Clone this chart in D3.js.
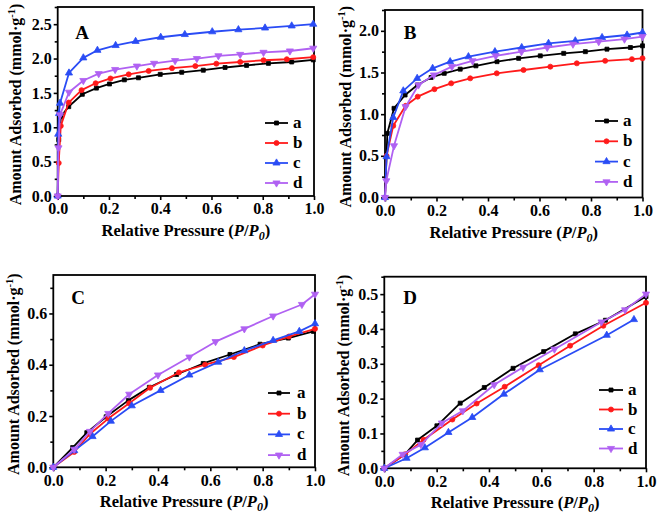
<!DOCTYPE html>
<html><head><meta charset="utf-8">
<script src="https://cdn.jsdelivr.net/npm/d3@7"></script>
<style>body{margin:0;background:#fff}svg{display:block}text{font-family:"Liberation Serif","Times New Roman",serif;font-weight:bold}</style>
</head><body><svg id="c" width="659" height="517"></svg>
<script>
const seriesNames = ["a","b","c","d"];
const seriesColors = ["#000000","#ff1a1a","#2a4cf5","#b061f2"];
const xTicks = [0,0.2,0.4,0.6,0.8,1.0];

// Panel A
const A_a = [[0,0],[0.004,0.82],[0.013,1.16],[0.043,1.30],[0.096,1.48],[0.151,1.57],[0.202,1.63],[0.26,1.69],[0.315,1.72],[0.40,1.77],[0.484,1.80],[0.568,1.83],[0.653,1.87],[0.737,1.90],[0.822,1.93],[0.913,1.95],[0.997,1.98]];
const A_b = [[0,0],[0.004,0.48],[0.012,1.02],[0.043,1.36],[0.093,1.54],[0.148,1.64],[0.206,1.71],[0.277,1.77],[0.355,1.82],[0.446,1.86],[0.537,1.89],[0.619,1.925],[0.712,1.95],[0.803,1.975],[0.894,1.99],[0.997,2.02]];
const A_c = [[0,0],[0.002,0.9],[0.005,1.2],[0.009,1.35],[0.044,1.79],[0.10,2.01],[0.155,2.12],[0.226,2.19],[0.304,2.25],[0.402,2.31],[0.496,2.35],[0.603,2.39],[0.705,2.42],[0.809,2.445],[0.913,2.475],[0.997,2.50]];
const A_d = [[0,0],[0.003,0.7],[0.009,1.18],[0.044,1.51],[0.10,1.68],[0.16,1.78],[0.224,1.84],[0.309,1.89],[0.376,1.93],[0.458,1.97],[0.543,2.00],[0.627,2.04],[0.712,2.06],[0.803,2.09],[0.906,2.11],[0.997,2.15]];
// Panel B
const B_a = [[0,0],[0.009,0.77],[0.035,1.07],[0.078,1.23],[0.126,1.35],[0.179,1.44],[0.23,1.49],[0.292,1.54],[0.353,1.58],[0.435,1.63],[0.519,1.67],[0.603,1.70],[0.694,1.73],[0.778,1.75],[0.862,1.78],[0.953,1.80],[1.0,1.82]];
const B_b = [[0,0],[0.006,0.50],[0.032,0.86],[0.08,1.10],[0.127,1.21],[0.192,1.30],[0.257,1.37],[0.331,1.43],[0.434,1.49],[0.538,1.53],[0.642,1.57],[0.745,1.61],[0.855,1.64],[0.959,1.66],[1.0,1.67]];
const B_c = [[0,0],[0.006,0.49],[0.032,0.96],[0.071,1.28],[0.125,1.43],[0.185,1.55],[0.253,1.63],[0.324,1.69],[0.427,1.75],[0.531,1.80],[0.635,1.85],[0.739,1.88],[0.843,1.92],[0.94,1.95],[1.0,1.98]];
const B_d = [[0,0],[0.005,0.2],[0.035,0.62],[0.08,1.09],[0.13,1.35],[0.19,1.47],[0.26,1.57],[0.34,1.64],[0.43,1.70],[0.53,1.75],[0.63,1.80],[0.73,1.84],[0.83,1.87],[0.93,1.90],[1.0,1.93]];
// Panel C
const C_a = [[0,0],[0.074,0.077],[0.128,0.135],[0.202,0.197],[0.287,0.261],[0.367,0.312],[0.471,0.362],[0.573,0.405],[0.675,0.44],[0.79,0.48],[0.898,0.504],[0.994,0.53]];
const C_b = [[0,0],[0.08,0.06],[0.14,0.13],[0.21,0.19],[0.29,0.25],[0.37,0.31],[0.48,0.37],[0.58,0.40],[0.69,0.43],[0.80,0.475],[0.90,0.51],[1.0,0.54]];
const C_c = [[0,0],[0.08,0.065],[0.15,0.12],[0.22,0.18],[0.30,0.24],[0.41,0.30],[0.52,0.36],[0.63,0.41],[0.73,0.455],[0.84,0.495],[0.94,0.53],[1.0,0.56]];
const C_d = [[0,0],[0.08,0.07],[0.14,0.14],[0.21,0.21],[0.29,0.285],[0.40,0.36],[0.52,0.43],[0.62,0.49],[0.73,0.54],[0.84,0.59],[0.95,0.635],[1.0,0.675]];
// Panel D
const D_a = [[0,0],[0.079,0.04],[0.127,0.081],[0.201,0.122],[0.29,0.187],[0.382,0.232],[0.492,0.287],[0.609,0.335],[0.73,0.386],[0.845,0.425],[1.0,0.493]];
const D_b = [[0,0],[0.08,0.04],[0.15,0.082],[0.26,0.14],[0.353,0.186],[0.46,0.234],[0.59,0.296],[0.71,0.352],[0.837,0.409],[1.0,0.475]];
const D_c = [[0,0],[0.085,0.029],[0.155,0.059],[0.245,0.103],[0.336,0.146],[0.457,0.213],[0.594,0.283],[0.85,0.382],[0.954,0.427]];
const D_d = [[0,0],[0.07,0.04],[0.14,0.068],[0.22,0.13],[0.30,0.165],[0.42,0.24],[0.53,0.29],[0.65,0.342],[0.83,0.42],[0.92,0.455],[1.0,0.50]];

const panels = [
  {label:"A", data:[A_a,A_b,A_c,A_d], ymax:2.75, yMajor:[0,0.5,1.0,1.5,2.0,2.5], yMinor:0.25, fmt:".1f",
   box:[57.7,314,7,196], ytx:15, lab:[82,39], leg:[265,288,293,123,20]},
  {label:"B", data:[B_a,B_b,B_c,B_d], ymax:2.25, yMajor:[0,0.5,1.0,1.5,2.0], yMinor:0.25, fmt:".1f",
   box:[385,642.5,10,197.5], ytx:345, lab:[410,39], leg:[595,618,623,121,20.3]},
  {label:"C", data:[C_a,C_b,C_c,C_d], ymax:0.75, yMajor:[0,0.2,0.4,0.6], yMinor:0.1, fmt:".1f",
   box:[53.3,315,275,467.3], ytx:13, lab:[78,304], leg:[268,290,297,393,20.7]},
  {label:"D", data:[D_a,D_b,D_c,D_d], ymax:0.55, yMajor:[0,0.1,0.2,0.3,0.4,0.5], yMinor:0.05, fmt:".1f",
   box:[384.3,646,276.7,468.3], ytx:343, lab:[410,304], leg:[599,623,628,390,19.5]}
];

const svg = d3.select("#c");
const symTypes = [d3.symbolSquare, d3.symbolCircle, d3.symbolTriangle, d3.symbolTriangle];
const symSizes = [16, 20, 22, 22];

function marker(g, i, x, y, color){
  const p = g.append("path").attr("d", d3.symbol().type(symTypes[i]).size(symSizes[i])())
    .attr("fill", color).attr("stroke", color).attr("stroke-width", 0.8);
  p.attr("transform", `translate(${x},${y})` + (i===3 ? " rotate(180)" : ""));
}

panels.forEach(P => {
  const [x0,x1,y0,y1] = P.box;
  const x = d3.scaleLinear().domain([0,1]).range([x0,x1]);
  const y = d3.scaleLinear().domain([0,P.ymax]).range([y1,y0]);
  const g = svg.append("g");

  const xMinor = d3.range(0.1,1.0001,0.2);
  const xAxMinor = d3.axisBottom(x).tickValues(xMinor).tickSize(3).tickFormat("");
  const yMin = d3.range(0, P.ymax+1e-9, P.yMinor).filter(v => !P.yMajor.some(m => Math.abs(m-v)<1e-9));
  const yAxMinor = d3.axisLeft(y).tickValues(yMin).tickSize(3).tickFormat("");
  g.append("g").attr("transform",`translate(0,${y1})`).call(xAxMinor)
    .call(s=>{s.select(".domain").remove(); s.selectAll("line").attr("stroke","#000").attr("stroke-width",1.6);});
  g.append("g").attr("transform",`translate(${x0},0)`).call(yAxMinor)
    .call(s=>{s.select(".domain").remove(); s.selectAll("line").attr("stroke","#000").attr("stroke-width",1.6);});

  const xAx = d3.axisBottom(x).tickValues(xTicks).tickSize(4).tickPadding(3).tickFormat(d3.format(".1f"));
  const yAx = d3.axisLeft(y).tickValues(P.yMajor).tickSize(4).tickPadding(2).tickFormat(d3.format(P.fmt));
  const styleTxt = s=>{s.select(".domain").remove(); s.selectAll("line").attr("stroke","#000").attr("stroke-width",1.6);
      s.selectAll("text").attr("font-size",16).attr("fill","#000").attr("font-family","Liberation Serif").attr("font-weight","bold");};
  g.append("g").attr("transform",`translate(0,${y1})`).call(xAx).call(styleTxt);
  g.append("g").attr("transform",`translate(${x0},0)`).call(yAx).call(styleTxt);

  g.append("rect").attr("x",x0).attr("y",y0).attr("width",x1-x0).attr("height",y1-y0)
    .attr("fill","none").attr("stroke","#000").attr("stroke-width",1.8);

  const line = d3.line().x(d=>x(d[0])).y(d=>y(d[1]));
  P.data.forEach((ser,i) => {
    g.append("path").datum(ser).attr("d",line).attr("fill","none")
      .attr("stroke",seriesColors[i]).attr("stroke-width",1.8).attr("stroke-linejoin","round");
    ser.forEach(d => marker(g, i, x(d[0]), y(d[1]), seriesColors[i]));
  });

  g.append("text").attr("x",P.lab[0]).attr("y",P.lab[1]).attr("text-anchor","middle")
    .attr("font-size",19).text(P.label);

  const [lx0,lx1,ltx,ly,ldy] = P.leg;
  seriesNames.forEach((n,i) => {
    const yy = ly + i*ldy;
    g.append("line").attr("x1",lx0).attr("x2",lx1).attr("y1",yy).attr("y2",yy)
      .attr("stroke",seriesColors[i]).attr("stroke-width",1.8);
    marker(g, i, (lx0+lx1)/2, yy, seriesColors[i]);
    g.append("text").attr("x",ltx).attr("y",yy+5).attr("font-size",17).text(n);
  });

  const xt = g.append("text").attr("x",(x0+x1)/2).attr("y",y1+40).attr("text-anchor","middle").attr("font-size",16.5);
  xt.append("tspan").text("Relative Pressure (");
  xt.append("tspan").attr("font-style","italic").text("P");
  xt.append("tspan").text("/");
  xt.append("tspan").attr("font-style","italic").text("P");
  xt.append("tspan").attr("font-style","italic").attr("font-size",12).attr("dy",4).text("0");
  xt.append("tspan").attr("dy",-4).text(")");

  const yt = g.append("text").attr("transform",`translate(${P.ytx+6},${(y0+y1)/2 + 3}) rotate(-90)`)
    .attr("text-anchor","middle").attr("font-size",16);
  yt.append("tspan").text("Amount Adsorbed (mmol·g");
  yt.append("tspan").attr("font-size",10.5).attr("dy",-6).text("-1");
  yt.append("tspan").attr("dy",6).text(")");
});
</script></body></html>
